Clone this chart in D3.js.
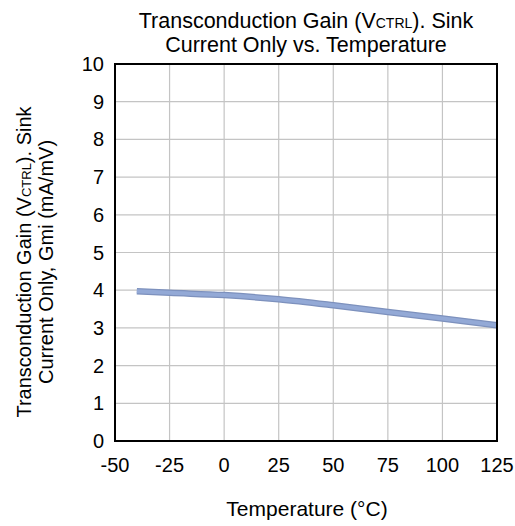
<!DOCTYPE html>
<html lang="en">
<head>
    <meta charset="UTF-8">
    <script src="https://cdnjs.cloudflare.com/ajax/libs/d3/7.8.5/d3.min.js"></script>
    <title>Transconduction Gain vs Temperature</title>
    <style>
        body { margin: 0; background: #fff; }
        text { font-family: "Liberation Sans", Arial, sans-serif; fill: #000; }
    </style>
</head>
<body>
    <script>
        var width = 515;
        var height = 526;

        // data
        var temps = [-40, -25, 0, 25, 50, 75, 100, 125];
        var gmi = [3.97, 3.93, 3.87, 3.76, 3.6, 3.42, 3.25, 3.07];
        var xTicks = [-50, -25, 0, 25, 50, 75, 100, 125];
        var yTicks = [0, 1, 2, 3, 4, 5, 6, 7, 8, 9, 10];

        var plotL = 115, plotR = 497, plotT = 64, plotB = 441;

        var x = d3.scaleLinear().domain([-50, 125]).range([plotL, plotR]);
        var y = d3.scaleLinear().domain([0, 10]).range([plotB, plotT]);

        var svg = d3.select('body').append('svg')
                    .attr('width', width)
                    .attr('height', height);

        // grid
        svg.append('g').selectAll('line').data(xTicks).enter()
            .append('line')
            .attr('x1', d => x(d)).attr('x2', d => x(d))
            .attr('y1', plotT).attr('y2', plotB)
            .attr('stroke', '#c4c4c4').attr('stroke-width', 1.2);
        svg.append('g').selectAll('line').data(yTicks).enter()
            .append('line')
            .attr('x1', plotL).attr('x2', plotR)
            .attr('y1', d => y(d)).attr('y2', d => y(d))
            .attr('stroke', '#c4c4c4').attr('stroke-width', 1.2);

        // curve (dark edge + lighter core)
        var line = d3.line()
                    .x((d, i) => x(temps[i]))
                    .y(d => y(d))
                    .curve(d3.curveMonotoneX);
        svg.append('path').datum(gmi)
            .attr('d', line)
            .attr('fill', 'none')
            .attr('stroke', '#7d91bd')
            .attr('stroke-width', 6.5);
        svg.append('path').datum(gmi)
            .attr('d', line)
            .attr('fill', 'none')
            .attr('stroke', '#93a9d6')
            .attr('stroke-width', 4);

        // frame
        svg.append('rect')
            .attr('x', plotL).attr('y', plotT)
            .attr('width', plotR - plotL).attr('height', plotB - plotT)
            .attr('fill', 'none').attr('stroke', '#000').attr('stroke-width', 2);

        // tick labels
        svg.append('g').selectAll('text').data(xTicks).enter()
            .append('text')
            .attr('x', d => x(d)).attr('y', 472)
            .attr('text-anchor', 'middle')
            .attr('font-size', 20)
            .text(d => d);
        svg.append('g').selectAll('text').data(yTicks).enter()
            .append('text')
            .attr('x', 104).attr('y', d => y(d) + 7)
            .attr('text-anchor', 'end')
            .attr('font-size', 20)
            .text(d => d);

        // title
        var title = svg.append('text').attr('text-anchor', 'middle').attr('font-size', 21.5);
        var t1 = title.append('tspan').attr('x', 306).attr('y', 28);
        t1.append('tspan').text('Transconduction Gain (V');
        t1.append('tspan').attr('font-size', 14).text('CTRL');
        t1.append('tspan').text('). Sink');
        title.append('tspan').attr('x', 306).attr('y', 52).text('Current Only vs. Temperature');

        // axis titles
        svg.append('text')
            .attr('x', 307).attr('y', 516)
            .attr('text-anchor', 'middle').attr('font-size', 21)
            .text('Temperature (°C)');

        var yl = svg.append('text')
            .attr('transform', 'translate(0,262) rotate(-90)')
            .attr('text-anchor', 'middle').attr('font-size', 20);
        var l1 = yl.append('tspan').attr('x', 0).attr('y', 31);
        l1.append('tspan').text('Transconduction Gain (V');
        l1.append('tspan').attr('font-size', 13).text('CTRL');
        l1.append('tspan').text('). Sink');
        yl.append('tspan').attr('x', 0).attr('y', 53).text('Current Only, Gmi (mA/mV)');
    </script>
</body>
</html>
